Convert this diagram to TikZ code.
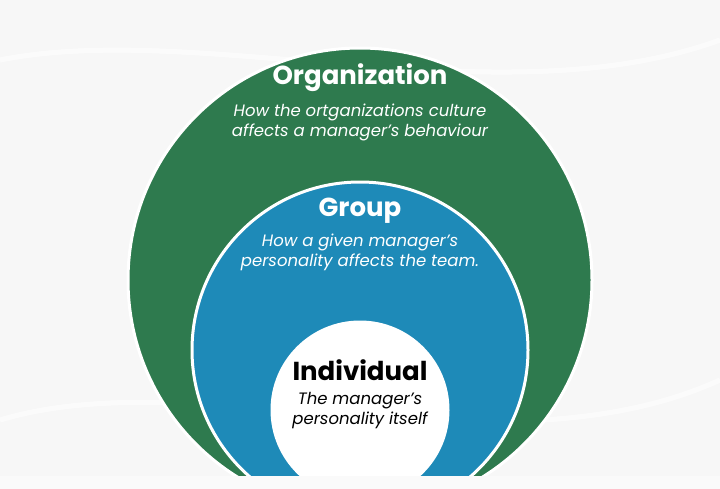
\documentclass[tikz,border=0pt]{standalone}
\usepackage{fontspec}
\setmainfont{Poppins}
\begin{document}
\begin{tikzpicture}[x=1pt,y=-1pt,
  ring/.style={draw=white,line width=3pt},
  title/.style={font=\bfseries\fontsize{26}{28}\selectfont},
  sub/.style={font=\itshape\fontsize{16.5}{20}\selectfont,align=center}]
\useasboundingbox (0,0) rectangle (720,488);
\fill[gray!6] (0,0) rectangle (720,488);
\draw[white,line width=5pt,opacity=0.6] (0,60) .. controls (200,20) and (500,120) .. (720,40);
\draw[white,line width=5pt,opacity=0.6] (0,420) .. controls (200,360) and (500,480) .. (720,380);
\node[ring,fill={rgb,255:red,46;green,122;blue,78},circle,minimum size=464pt,inner sep=0] (org) at (360,280) {};
\node[ring,fill={rgb,255:red,30;green,138;blue,184},circle,minimum size=336pt,inner sep=0] (grp) at (360,350) {};
\node[ring,fill=white,circle,minimum size=176pt,inner sep=0] (ind) at (360,410) {};
\fill[white!96!gray] (-5,476) rectangle (725,530);
\node[title,text=white] (t1) at (360,78) {Organization};
\node[sub,text=white] (s1) at (360,122) {How the ortganizations culture\\affects a manager’s behaviour};
\node[title,text=white] (t2) at (360,211) {Group};
\node[sub,text=white] (s2) at (360,252) {How a given manager’s\\personality affects the team.};
\node[title,text=black] (t3) at (360,370) {Individual};
\node[sub,text=black] (s3) at (360,411) {The manager’s\\personality itself};
\end{tikzpicture}
\end{document}
